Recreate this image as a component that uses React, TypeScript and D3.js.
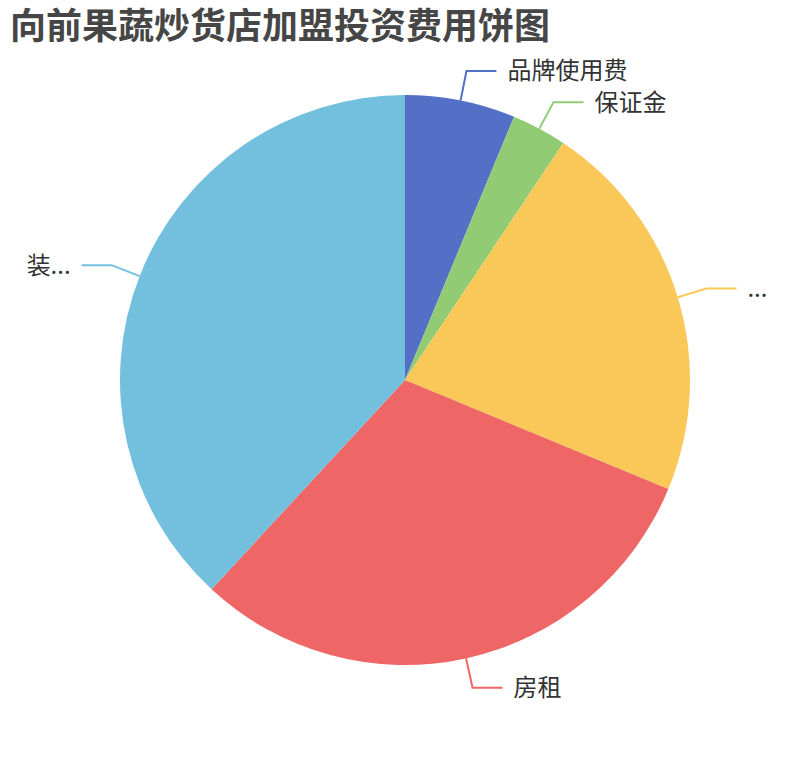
import { useEffect } from "react";
import * as d3 from "d3";

// 加盟投资费用构成（单位：千元，按扇区角度估读）
const categories = ["品牌使用费", "保证金", "设备购置费", "房租", "装修费"];
const values = [10, 5, 35, 49, 61];
const colors = ["#5470c6", "#91cc75", "#fac858", "#ee6666", "#73c0de"];

const TITLE = "向前果蔬炒货店加盟投资费用饼图";

const W = 810;
const H = 760;
const CX = 405;
const CY = 380;
const R = 285;
const LINE1 = 30; // radial part of the leader line
const LINE2 = 30; // horizontal part
const GAP = 11;
const EDGE = 24; // space kept free at the page edges for labels
const FONT = '"Noto Sans CJK SC", "Noto Sans", sans-serif';
const LABEL_SIZE = 24;

let ctx: CanvasRenderingContext2D | null = null;
function textWidth(s: string): number {
  if (!ctx) ctx = document.createElement("canvas").getContext("2d");
  if (!ctx) return s.length * LABEL_SIZE;
  ctx.font = `${LABEL_SIZE}px ${FONT}`;
  return ctx.measureText(s).width;
}

// cut the name with "..." when it does not fit in the room left to the edge
function truncate(name: string, room: number): string {
  if (textWidth(name) <= room) return name;
  for (let n = name.length - 1; n >= 0; n--) {
    const s = name.slice(0, n) + "...";
    if (textWidth(s) <= room) return s;
  }
  return "...";
}

export default function App() {
  useEffect(() => {
    document.body.style.margin = "0";
  }, []);

  const pie = d3
    .pie<number>()
    .sort(null)
    .value((d) => d);
  const arcs = pie(values);
  const arcGen = d3.arc<d3.PieArcDatum<number>>().innerRadius(0).outerRadius(R);

  const polar = (a: number, r: number): [number, number] => [CX + r * Math.sin(a), CY - r * Math.cos(a)];

  return (
    <svg width={W} height={H} viewBox={`0 0 ${W} ${H}`} style={{ display: "block", fontFamily: FONT }}>
      <text x={10} y={39} fontSize={36} fontWeight={700} fill="#464646">
        {TITLE}
      </text>
      <g transform={`translate(${CX},${CY})`}>
        {arcs.map((a, i) => (
          <path key={categories[i]} d={arcGen(a) ?? ""} fill={colors[i]} />
        ))}
      </g>
      {arcs.map((a, i) => {
        const mid = (a.startAngle + a.endAngle) / 2;
        const p0 = polar(mid, R);
        const p1 = polar(mid, R + LINE1);
        const right = p1[0] >= CX;
        const x2 = p1[0] + (right ? LINE2 : -LINE2);
        const tx = x2 + (right ? GAP : -GAP);
        const room = right ? W - tx - EDGE : tx - EDGE;
        return (
          <g key={categories[i]}>
            <polyline
              points={`${p0[0]},${p0[1]} ${p1[0]},${p1[1]} ${x2},${p1[1]}`}
              fill="none"
              stroke={colors[i]}
              strokeWidth={2}
            />
            <text
              x={tx}
              y={p1[1]}
              dy="0.35em"
              fontSize={LABEL_SIZE}
              fill="#333"
              textAnchor={right ? "start" : "end"}
            >
              {truncate(categories[i], room)}
            </text>
          </g>
        );
      })}
    </svg>
  );
}
